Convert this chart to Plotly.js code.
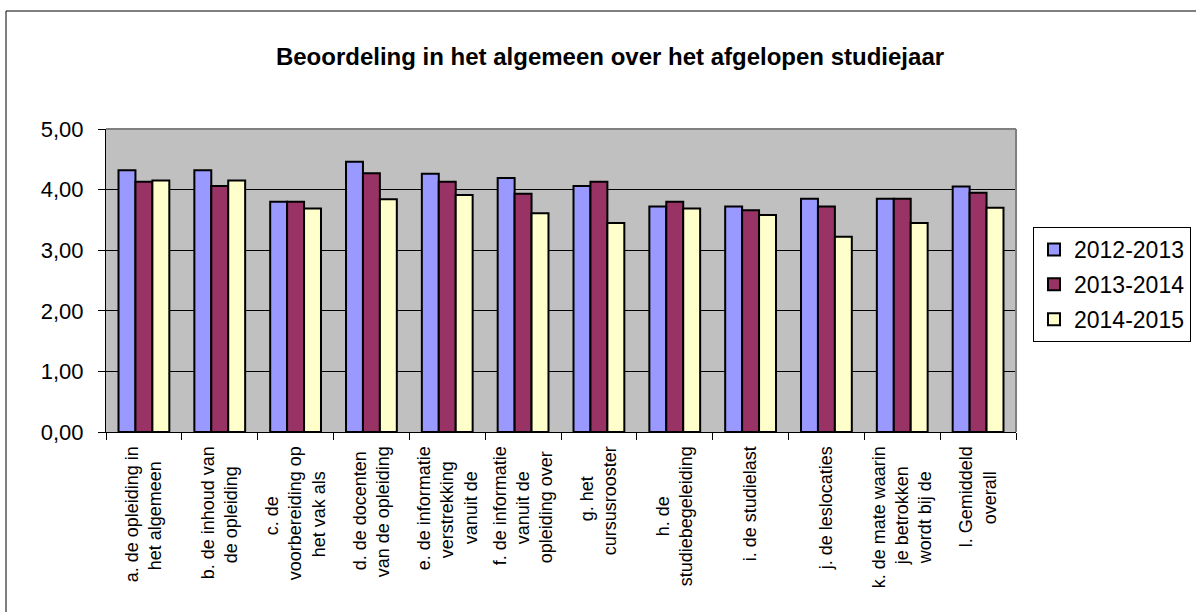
<!DOCTYPE html>
<html>
<head>
<meta charset="utf-8">
<script src="https://cdn.plot.ly/plotly-3.0.1.min.js"></script>
<style>
  html, body { margin: 0; padding: 0; background: #ffffff; }
  #chart { width: 1196px; height: 612px; }
</style>
</head>
<body>
<div id="chart"></div>
<script>
// ---- data ----
const categories = [
  ["a. de opleiding in", "het algemeen"],
  ["b. de inhoud van", "de opleiding"],
  ["c. de", "voorbereiding op", "het vak als"],
  ["d. de docenten", "van de opleiding"],
  ["e. de informatie", "verstrekking", "vanuit de"],
  ["f. de informatie", "vanuit de", "opleiding over"],
  ["g. het", "cursusrooster"],
  ["h. de", "studiebegeleiding"],
  ["i. de studielast"],
  ["j. de leslocaties"],
  ["k. de mate waarin", "je betrokken", "wordt bij de"],
  ["l. Gemiddeld", "overall"]
];
const seriesNames = ["2012-2013", "2013-2014", "2014-2015"];
const values2012 = [4.32, 4.32, 3.80, 4.46, 4.26, 4.19, 4.06, 3.72, 3.72, 3.85, 3.85, 4.05];
const values2013 = [4.13, 4.06, 3.80, 4.27, 4.13, 3.93, 4.13, 3.80, 3.66, 3.72, 3.85, 3.95];
const values2014 = [4.15, 4.15, 3.69, 3.84, 3.91, 3.61, 3.45, 3.69, 3.58, 3.22, 3.45, 3.70];
const yTickValues = [0, 1, 2, 3, 4, 5];

// ---- styles ----
const colors = ["#9999FF", "#993366", "#FFFFCC"];
const FONT = "Liberation Sans, Arial, sans-serif";
const XTICK_SIZE = 18;

// center the lines of each multi-line label by padding shorter lines with
// non-breaking spaces (Plotly end-anchors rotated tick labels)
const canvas = document.createElement("canvas");
const ctx = canvas.getContext("2d");
ctx.font = XTICK_SIZE + "px 'Liberation Sans'";
const nbspW = ctx.measureText("\u00A0").width || XTICK_SIZE * 0.278;
function centered(lines) {
  const widths = lines.map(l => ctx.measureText(l).width);
  const maxW = Math.max(...widths);
  return lines.map((l, i) => {
    const n = Math.round((maxW - widths[i]) / 2 / nbspW);
    return l + "\u00A0".repeat(n);
  }).join("<br>");
}
const xLabels = categories.map(centered);
const xKeys = categories.map((c, i) => "c" + i);

const seriesValues = [values2012, values2013, values2014];
const traces = seriesValues.map((vals, i) => ({
  type: "bar",
  name: seriesNames[i],
  x: xKeys,
  y: vals,
  marker: { color: colors[i], line: { color: "#000000", width: 2 } },
  legendgroup: "g" + i,
  hoverinfo: "y+name"
}));

const W = 1196, H = 612;
const mL = 106, mR = 180, mT = 129, mB = 180;
const pw = W - mL - mR, ph = H - mT - mB;

const layout = {
  width: W, height: H,
  margin: { l: mL, r: mR, t: mT, b: mB, pad: 0, autoexpand: false },
  paper_bgcolor: "#ffffff",
  plot_bgcolor: "#C0C0C0",
  separators: ",.",
  barmode: "group",
  bargap: 0.33,
  bargroupgap: 0,
  font: { family: FONT, color: "#000000" },
  title: {
    text: "<b>Beoordeling in het algemeen over het afgelopen studiejaar</b>",
    font: { family: FONT, size: 24, color: "#000000" },
    xref: "container", yref: "container",
    x: 610 / W, xanchor: "center",
    y: 1 - 57 / H, yanchor: "middle"
  },
  xaxis: {
    type: "category",
    tickmode: "array",
    tickvals: xKeys,
    ticktext: xLabels,
    tickangle: -90,
    tickfont: { family: FONT, size: XTICK_SIZE, color: "#000000" },
    ticks: "outside",
    tickson: "boundaries",
    ticklen: 7,
    tickcolor: "#000000",
    tickwidth: 1,
    ticklabelstandoff: 6,
    showline: true,
    linecolor: "#000000",
    linewidth: 1,
    showgrid: false,
    zeroline: false,
    automargin: false,
    fixedrange: true
  },
  yaxis: {
    range: [0, 5],
    tickmode: "array",
    tickvals: yTickValues,
    tickformat: ".2f",
    tickfont: { family: FONT, size: 22, color: "#000000" },
    ticks: "outside",
    ticklen: 7,
    tickcolor: "#000000",
    tickwidth: 1,
    ticklabelstandoff: 10,
    showline: true,
    linecolor: "#000000",
    linewidth: 1,
    showgrid: true,
    gridcolor: "#000000",
    gridwidth: 1,
    zeroline: false,
    automargin: false,
    fixedrange: true
  },
  legend: {
    x: (1033 - mL) / pw,
    xanchor: "left",
    y: (H - mB - 227) / ph,
    yanchor: "top",
    bgcolor: "#ffffff",
    bordercolor: "#000000",
    borderwidth: 1,
    font: { family: FONT, size: 23, color: "#000000" },
    traceorder: "grouped",
    tracegroupgap: 2
  },
  shapes: [
    // gray plot-area border (top and right)
    { type: "line", xref: "paper", yref: "paper", x0: 0, x1: 1, y0: 1, y1: 1,
      line: { color: "#808080", width: 2 }, layer: "above" },
    { type: "line", xref: "paper", yref: "paper", x0: 1, x1: 1, y0: 0, y1: 1,
      line: { color: "#808080", width: 2 }, layer: "above" },
    // outer chart frame (left and top edges visible)
    { type: "line", xref: "paper", yref: "paper",
      x0: (6 - mL) / pw, x1: (6 - mL) / pw,
      y0: (H - mB - H - 10) / ph, y1: (H - mB - 11) / ph,
      line: { color: "#000000", width: 1 } },
    { type: "line", xref: "paper", yref: "paper",
      x0: (6 - mL) / pw, x1: (W + 10 - mL) / pw,
      y0: (H - mB - 11) / ph, y1: (H - mB - 11) / ph,
      line: { color: "#000000", width: 1 } }
  ]
};

Plotly.newPlot("chart", traces, layout, { displayModeBar: false, staticPlot: true });
</script>
</body>
</html>
